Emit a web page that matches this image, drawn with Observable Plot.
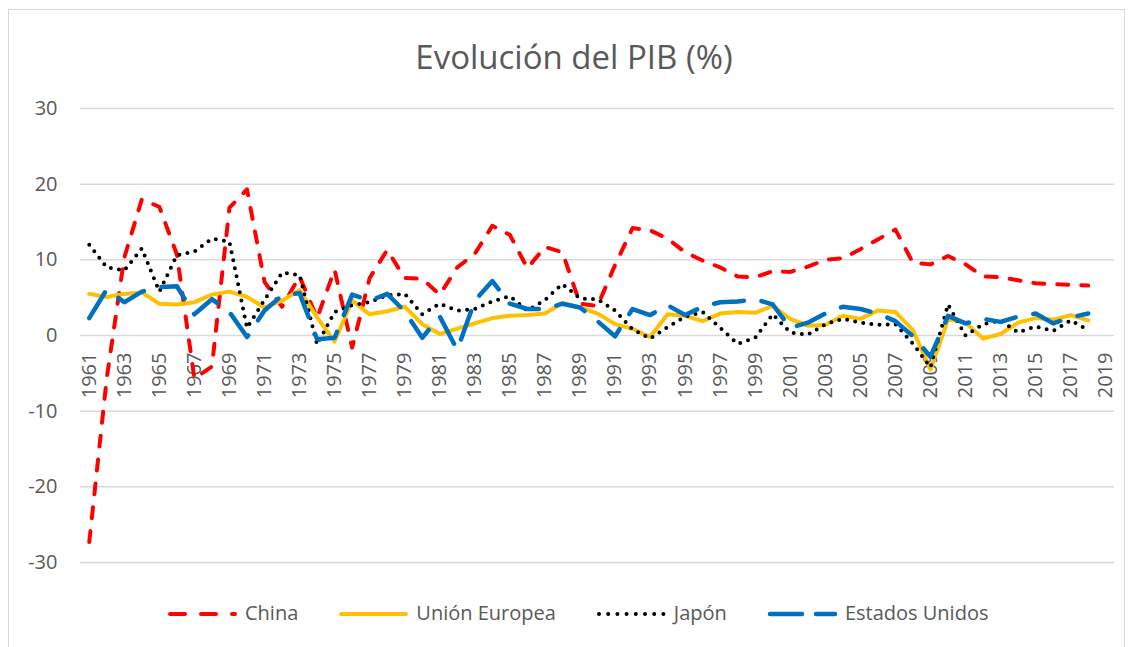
<!DOCTYPE html>
<html>
<head>
<meta charset="utf-8">
<script src="https://cdn.jsdelivr.net/npm/d3@7"></script>
<script src="https://cdn.jsdelivr.net/npm/@observablehq/plot@0.6"></script>
<style>
  html, body { margin: 0; padding: 0; background: #fff; }
  body { width: 1131px; height: 647px; position: relative; overflow: hidden; font-family: "Open Sans", sans-serif; }
  #frame { position: absolute; left: 8px; top: 9px; width: 1117px; height: 645px; border: 1.5px solid #d9d9d9; box-sizing: border-box; }
  #title { position: absolute; left: 0; top: 40px; width: 1148px; text-align: center; font-size: 33px; line-height: 33px; color: #595959; }
  #chart { position: absolute; left: 0; top: 90px; }
  #legend { position: absolute; left: 167px; top: 603px; display: flex; gap: 40px; font-size: 20px; line-height: 20px; color: #595959; }
  .item { display: flex; align-items: center; gap: 7px; }
  .item svg { display: block; }
</style>
</head>
<body>
<div id="frame"></div>
<div id="title">Evolución del PIB (%)</div>
<div id="chart"></div>
<div id="legend"></div>
<script>
// Categories (years); 2019 is an empty category carrying only a tick label
const categories = d3.range(1961, 2020);
const dataYears = d3.range(1961, 2019);
const xTickLabels = ["1961","1963","1965","1967","1969","1971","1973","1975","1977","1979","1981","1983","1985","1987","1989","1991","1993","1995","1997","1999","2001","2003","2005","2007","2009","2011","2013","2015","2017","2019"];
const yTicks = [-30, -20, -10, 0, 10, 20, 30];

const china = [-27.3,-5.6,10.3,18.0,17.0,10.7,-5.7,-4.1,16.9,19.3,
  7.1,3.8,7.8,2.3,8.7,-1.6,7.6,11.3,7.6,7.5,
  5.4,9.0,10.8,14.5,13.3,8.9,11.7,11.0,4.2,3.9,
  9.3,14.2,13.9,12.8,11.0,9.9,9.0,7.8,7.7,8.5,
  8.4,9.1,10.0,10.2,11.4,12.7,14.0,9.6,9.4,10.5,
  9.4,7.8,7.7,7.3,6.9,6.8,6.7,6.6];
const ue = [5.5,5.1,5.5,5.7,4.2,4.1,4.4,5.4,5.8,5.1,
  3.7,4.6,6.0,2.4,-0.8,4.6,2.8,3.2,3.8,1.5,
  0.2,0.9,1.6,2.3,2.6,2.7,2.9,4.3,3.7,2.9,
  1.5,0.9,-0.2,2.8,2.6,1.9,2.9,3.1,3.0,3.9,
  2.2,1.3,1.4,2.6,2.2,3.3,3.1,0.7,-4.5,2.1,
  1.7,-0.4,0.2,1.7,2.3,2.1,2.7,2.0];
const japon = [12.0,9.0,8.6,11.5,5.8,10.6,11.1,12.8,12.4,1.0,
  4.7,8.3,8.0,-1.2,3.1,4.0,4.4,5.3,5.5,2.8,
  4.2,3.3,3.5,4.5,5.2,3.3,4.7,6.8,4.9,4.8,
  3.3,0.8,-0.4,1.1,2.5,3.1,1.0,-1.1,-0.3,2.8,
  0.4,0.1,1.5,2.2,1.7,1.4,1.5,-1.1,-4.2,4.1,
  0.0,1.5,2.0,0.4,1.2,0.6,2.0,0.7];
const eeuu = [2.3,6.1,4.4,5.8,6.4,6.5,2.8,4.8,3.1,-0.2,
  3.3,5.3,5.6,-0.5,-0.3,5.4,4.6,5.5,3.2,-0.3,
  2.5,-1.9,4.6,7.2,4.2,3.5,3.5,4.2,3.7,1.9,
  -0.1,3.5,2.7,4.0,2.7,3.8,4.4,4.5,4.8,4.1,
  1.0,1.7,2.9,3.8,3.5,2.9,1.9,-0.1,-2.8,2.6,
  1.6,2.2,1.8,2.5,2.9,1.6,2.4,2.9];

const seriesNames = ["China", "Unión Europea", "Japón", "Estados Unidos"];
const seriesValues = [china, ue, japon, eeuu];
const seriesStyles = [
  {stroke: "#ff0000", strokeWidth: 4, strokeDasharray: "11,13", strokeLinecap: "round"},
  {stroke: "#ffc000", strokeWidth: 4, strokeDasharray: null, strokeLinecap: "round"},
  {stroke: "#000000", strokeWidth: 4, strokeDasharray: "0,8.2", strokeLinecap: "round"},
  {stroke: "#0070c0", strokeWidth: 4.5, strokeDasharray: "30,18", strokeLinecap: "round"}
];

const lineMarks = seriesValues.map((vals, i) => {
  const rows = dataYears.map((yr, j) => ({year: yr, value: vals[j]}));
  const s = seriesStyles[i];
  const opts = {x: "year", y: "value", stroke: s.stroke, strokeWidth: s.strokeWidth, strokeLinecap: s.strokeLinecap, strokeLinejoin: "round"};
  if (s.strokeDasharray) opts.strokeDasharray = s.strokeDasharray;
  return Plot.line(rows, opts);
});

const plot = Plot.plot({
  width: 1131,
  height: 510,
  marginLeft: 80,
  marginRight: 17,
  marginTop: 18,
  marginBottom: 38,
  style: {fontFamily: "Open Sans, sans-serif", background: "transparent"},
  x: {type: "point", domain: categories, padding: 0.5, align: 0.5, axis: null},
  y: {domain: [-30, 30], axis: null},
  marks: [
    Plot.ruleY(yTicks, {stroke: "#d9d9d9", strokeWidth: 1.5}),
    Plot.axisY(yTicks, {tickSize: 0, tickPadding: 23, fontSize: 20, color: "#595959", label: null, tickFormat: d => String(d)}),
    Plot.text(xTickLabels, {x: d => +d, y: d => 0, text: d => d, rotate: -90, textAnchor: "end", lineAnchor: "middle", dy: 17, fontSize: 20, fill: "#595959"}),
    ...lineMarks
  ]
});
document.getElementById("chart").appendChild(plot);

// Legend
const legend = document.getElementById("legend");
seriesNames.forEach((name, i) => {
  const s = seriesStyles[i];
  const item = document.createElement("div");
  item.className = "item";
  const svgNS = "http://www.w3.org/2000/svg";
  const svg = document.createElementNS(svgNS, "svg");
  svg.setAttribute("width", 71);
  svg.setAttribute("height", 20);
  const ln = document.createElementNS(svgNS, "line");
  ln.setAttribute("x1", 3); ln.setAttribute("x2", 68);
  ln.setAttribute("y1", 11); ln.setAttribute("y2", 11);
  ln.setAttribute("stroke", s.stroke);
  ln.setAttribute("stroke-width", s.strokeWidth);
  ln.setAttribute("stroke-linecap", s.strokeLinecap);
  if (i === 0) ln.setAttribute("stroke-dasharray", "15,16");
  else if (i === 2) ln.setAttribute("stroke-dasharray", "0,9.2");
  else if (i === 3) ln.setAttribute("stroke-dasharray", "32,14");
  svg.appendChild(ln);
  const label = document.createElement("span");
  label.textContent = name;
  item.appendChild(svg);
  item.appendChild(label);
  legend.appendChild(item);
});
</script>
</body>
</html>
